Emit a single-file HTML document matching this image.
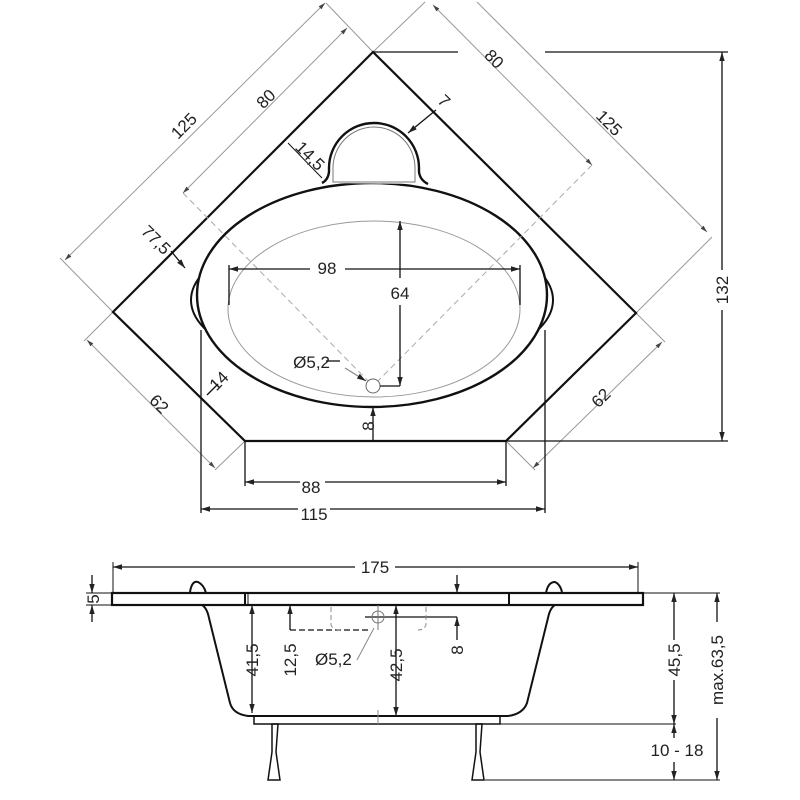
<!DOCTYPE html>
<html><head><meta charset="utf-8"><style>
html,body{margin:0;padding:0;background:#fff}
svg{display:block}
text{font-family:"Liberation Sans",sans-serif;font-size:17px;fill:#222}
</style></head><body>
<svg width="800" height="800" viewBox="0 0 800 800" xmlns="http://www.w3.org/2000/svg">
<defs>
<marker id="a" viewBox="0 0 10 10" refX="10" refY="5" markerWidth="7" markerHeight="7" orient="auto-start-reverse"><path d="M0,2 L10,5 L0,8 z" fill="#222"/></marker>
<marker id="g" viewBox="0 0 10 10" refX="10" refY="5" markerWidth="7" markerHeight="7" orient="auto-start-reverse"><path d="M0,2 L10,5 L0,8 z" fill="#444"/></marker>
</defs>
<g stroke="#999" stroke-width="1" fill="none">
<line x1="65" y1="260" x2="325" y2="3" marker-start="url(#g)" marker-end="url(#g)"/>
<line x1="113" y1="312" x2="60" y2="258"/>
<line x1="183" y1="193" x2="347" y2="28" marker-start="url(#g)" marker-end="url(#g)"/>
<line x1="373" y1="52" x2="326" y2="3"/>
<line x1="373" y1="52" x2="425" y2="2"/>
<line x1="433" y1="5" x2="592" y2="165" marker-start="url(#g)" marker-end="url(#g)"/>
<line x1="477" y1="2" x2="707" y2="232" marker-end="url(#g)"/>
<line x1="636" y1="313" x2="712" y2="237"/>
<line x1="87" y1="340" x2="215" y2="468" marker-start="url(#g)" marker-end="url(#g)"/>
<line x1="113" y1="312" x2="84" y2="341"/>
<line x1="245" y1="441" x2="215" y2="470"/>
<line x1="662" y1="342" x2="533" y2="468" marker-start="url(#g)" marker-end="url(#g)"/>
<line x1="636" y1="313" x2="665" y2="342"/>
<line x1="506" y1="441" x2="535" y2="470"/>
</g>
<polygon points="373,52 636,313 506,441 245,441 113,312" fill="none" stroke="#111" stroke-width="2.2"/>
<ellipse cx="372" cy="300" rx="181" ry="75" fill="none" stroke="#111" stroke-width="2"/>
<ellipse cx="372" cy="295" rx="175" ry="112" fill="#fff" stroke="#111" stroke-width="2.4"/>
<path d="M322,183 Q328,180 329,172 L329,168 A45,45 0 0 1 419,168 L419,172 Q420,180 428,184" fill="#fff" stroke="#111" stroke-width="2.4"/>
<path d="M333,182 L333,168 A41,41 0 0 1 415,168 L415,182 Z" fill="none" stroke="#777" stroke-width="1"/>
<ellipse cx="374" cy="309" rx="146" ry="88" fill="none" stroke="#999" stroke-width="1"/>
<line x1="183" y1="193" x2="373" y2="386" stroke="#aaa" stroke-dasharray="6,4"/>
<line x1="592" y1="165" x2="373" y2="386" stroke="#aaa" stroke-dasharray="6,4"/>
<circle cx="373" cy="386" r="7" fill="#fff" stroke="#666" stroke-width="1"/>
<g stroke="#111" stroke-width="1.3" fill="none">
<line x1="373" y1="52" x2="458" y2="52"/><line x1="545" y1="52" x2="728" y2="52"/>
<line x1="506" y1="441" x2="728" y2="441"/>
<line x1="722" y1="52" x2="722" y2="270" marker-start="url(#a)"/><line x1="722" y1="310" x2="722" y2="441" marker-end="url(#a)"/>
<line x1="229" y1="269" x2="310" y2="269" marker-start="url(#a)"/><line x1="345" y1="269" x2="520" y2="269" marker-end="url(#a)"/>
<line x1="229" y1="265" x2="229" y2="305"/><line x1="520" y1="265" x2="520" y2="305"/>
<line x1="400" y1="221" x2="400" y2="278" marker-start="url(#a)"/><line x1="400" y1="305" x2="400" y2="386" marker-end="url(#a)"/>
<line x1="380" y1="386" x2="400" y2="386"/>
<line x1="373" y1="407" x2="373" y2="441" marker-start="url(#a)"/>
<line x1="201" y1="330" x2="201" y2="513"/><line x1="545" y1="330" x2="545" y2="513"/>
<line x1="245" y1="441" x2="245" y2="486"/><line x1="506" y1="441" x2="506" y2="486"/>
<line x1="245" y1="482" x2="300" y2="482" marker-start="url(#a)"/><line x1="325" y1="482" x2="506" y2="482" marker-end="url(#a)"/>
<line x1="201" y1="509" x2="298" y2="509" marker-start="url(#a)"/><line x1="330" y1="509" x2="545" y2="509" marker-end="url(#a)"/>
<line x1="326" y1="361" x2="340" y2="361"/>
<line x1="345" y1="368" x2="366" y2="381" stroke="#888" marker-end="url(#a)"/>
<line x1="288" y1="143" x2="322" y2="178" stroke-width="1"/>
<line x1="436" y1="110" x2="408" y2="133" marker-end="url(#a)"/>
<line x1="171" y1="251" x2="185" y2="268" marker-end="url(#a)"/>
<line x1="207" y1="395" x2="218" y2="384"/>
</g>
<g>
<text x="327" y="274" text-anchor="middle">98</text>
<text x="400" y="299" text-anchor="middle">64</text>
<text x="311" y="493" text-anchor="middle">88</text>
<text x="314" y="520" text-anchor="middle">115</text>
<text x="330" y="368" text-anchor="end">Ø5,2</text>
<text transform="translate(728,290) rotate(-90)" text-anchor="middle">132</text>
<text transform="translate(374,426) rotate(-90)" text-anchor="middle">8</text>
<text transform="translate(188,130) rotate(-45)" text-anchor="middle">125</text>
<text transform="translate(270,103) rotate(-45)" text-anchor="middle">80</text>
<text transform="translate(490,63) rotate(45)" text-anchor="middle">80</text>
<text transform="translate(605,127) rotate(45)" text-anchor="middle">125</text>
<text transform="translate(440,105) rotate(45)" text-anchor="middle">7</text>
<text transform="translate(306,160) rotate(45)" text-anchor="middle">14,5</text>
<text transform="translate(152,244) rotate(45)" text-anchor="middle">77,5</text>
<text transform="translate(223,385) rotate(-45)" text-anchor="middle">14</text>
<text transform="translate(155,408) rotate(45)" text-anchor="middle">62</text>
<text transform="translate(605,402) rotate(-45)" text-anchor="middle">62</text>
</g>
<g stroke="#111" fill="none">
<line x1="113" y1="567" x2="355" y2="567" stroke-width="1.3" marker-start="url(#a)"/>
<line x1="395" y1="567" x2="638" y2="567" stroke-width="1.3" marker-end="url(#a)"/>
<line x1="113" y1="562" x2="113" y2="593" stroke-width="1"/><line x1="638" y1="562" x2="638" y2="593" stroke-width="1"/>
<rect x="112" y="593" width="531" height="12" stroke-width="2.2" fill="#fff"/>
<line x1="245" y1="593" x2="245" y2="605" stroke-width="2"/><line x1="248" y1="593" x2="248" y2="605" stroke-width="1"/>
<line x1="509" y1="593" x2="509" y2="605" stroke-width="2"/>
<path d="M190,592 Q192,580 198,582 Q204,585 206,593" stroke-width="2"/>
<path d="M546,593 Q548,582 555,582 Q560,584 562,592" stroke-width="2"/>
<path d="M202,605 Q207,608 209,618 L230,703 Q233,714 248,716 L508,716 Q523,714 527,703 L548,618 Q550,608 555,605" stroke-width="2"/>
<rect x="254" y="716" width="246" height="8" stroke-width="1.5"/>
<path d="M272,724 L278,724 L276,752 L280,780 L268,780 L272,752 Z" stroke-width="1.5"/>
<path d="M476,724 L482,724 L480,752 L484,780 L472,780 L476,752 Z" stroke-width="1.5"/>
<g stroke-width="1.3">
<line x1="92" y1="575" x2="92" y2="593" marker-end="url(#a)"/><line x1="92" y1="622" x2="92" y2="605" marker-end="url(#a)"/>
<line x1="86" y1="593" x2="112" y2="593" stroke-width="1"/><line x1="86" y1="605" x2="112" y2="605" stroke-width="1"/>
<line x1="252" y1="605" x2="252" y2="713" marker-start="url(#a)" marker-end="url(#a)"/>
<line x1="290" y1="605" x2="290" y2="630" marker-start="url(#a)"/>
<line x1="290" y1="630" x2="370" y2="630" stroke-dasharray="6,3"/>
<line x1="396" y1="605" x2="396" y2="716" marker-start="url(#a)" marker-end="url(#a)"/>
<line x1="457" y1="575" x2="457" y2="593" marker-end="url(#a)"/>
<line x1="457" y1="617" x2="457" y2="640" marker-start="url(#a)"/>
<line x1="365" y1="617" x2="457" y2="617"/>
<line x1="500" y1="724" x2="676" y2="724" stroke-width="1"/>
<line x1="485" y1="780" x2="720" y2="780" stroke-width="1"/>
<line x1="643" y1="593" x2="720" y2="593" stroke-width="1"/>
<line x1="674" y1="593" x2="674" y2="640" marker-start="url(#a)"/><line x1="674" y1="680" x2="674" y2="724" marker-end="url(#a)"/>
<line x1="674" y1="724" x2="674" y2="738" marker-start="url(#a)"/><line x1="674" y1="762" x2="674" y2="780" marker-end="url(#a)"/>
<line x1="717" y1="593" x2="717" y2="622" marker-start="url(#a)"/><line x1="717" y1="718" x2="717" y2="780" marker-end="url(#a)"/>
</g>
<path d="M331,607 L331,625 Q333,630 340,630 M426,607 L426,625 Q424,630 418,630" stroke="#888" stroke-width="1" stroke-dasharray="5,3"/>
<circle cx="378" cy="617" r="6" stroke="#777" stroke-width="1"/>
<line x1="378" y1="605" x2="378" y2="630" stroke="#777" stroke-width="1"/>
<line x1="374" y1="628" x2="357" y2="660" stroke="#888" stroke-width="1"/>
<line x1="378" y1="710" x2="378" y2="724" stroke="#888" stroke-width="1"/>
</g>
<g>
<text x="375" y="573" text-anchor="middle">175</text>
<text transform="translate(94,599) rotate(-90)" text-anchor="middle" dy="5">5</text>
<text transform="translate(258,660) rotate(-90)" text-anchor="middle">41,5</text>
<text transform="translate(296,660) rotate(-90)" text-anchor="middle">12,5</text>
<text x="315" y="665">Ø5,2</text>
<text transform="translate(402,665) rotate(-90)" text-anchor="middle">42,5</text>
<text transform="translate(463,650) rotate(-90)" text-anchor="middle">8</text>
<text transform="translate(680,660) rotate(-90)" text-anchor="middle">45,5</text>
<text transform="translate(723,670) rotate(-90)" text-anchor="middle">max.63,5</text>
<text x="677" y="756" text-anchor="middle">10 - 18</text>
</g>
</svg>
</body></html>
